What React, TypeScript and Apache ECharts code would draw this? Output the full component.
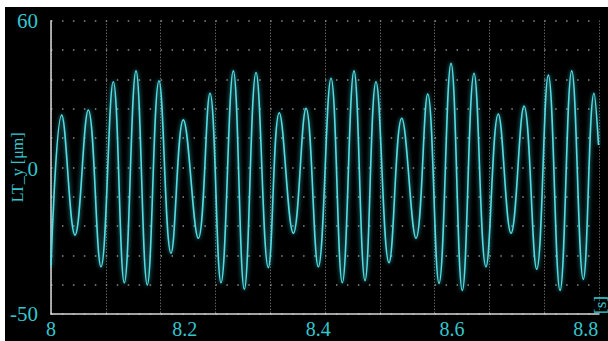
import React, { useEffect, useRef } from "react";
import * as echarts from "echarts";

// Time (s) of each turning point of the trace
const times = [
  8.0, 8.016, 8.0359, 8.0558, 8.0748, 8.0932, 8.1097, 8.1272, 8.1441, 8.1616,
  8.1796, 8.198, 8.2204, 8.2379, 8.2544, 8.2728, 8.2893, 8.3068, 8.3252, 8.3416,
  8.3626, 8.3816, 8.4, 8.419, 8.4359, 8.4534, 8.4699, 8.4863, 8.5058, 8.5248,
  8.5462, 8.5637, 8.5806, 8.5986, 8.6155, 8.633, 8.6509, 8.6693, 8.6883, 8.7078,
  8.7268, 8.7442, 8.7617, 8.7792, 8.7965, 8.8125, 8.8193,
];
// LT_y displacement (μm) at those turning points
const values = [
  -32, 24.6, -20.4, 26.5, -32.3, 37.1, -38.3, 41.2, -39.1, 37.5,
  -27.2, 22.8, -21.6, 32.8, -38.3, 41.2, -40.7, 40.6, -32.6, 25.5,
  -19.7, 27.1, -32.3, 38.4, -38.3, 41.2, -37.5, 37.1, -30.8, 23.4,
  -21.6, 32.5, -38.5, 44.0, -41.2, 40.3, -32.3, 25.0, -19.7, 28.0,
  -33.2, 39.6, -41.2, 41.2, -37.0, 32.8, 13.4,
];
const yLabelValues = [60, 0, -50];
const xMin = 8;
const xMax = 8.82;
const xInterval = 0.2;
const yMin = -50;
const yMax = 60;
const divisions = 10;

const CYAN = "#33c6cc";
const FONT = "Liberation Serif";

export default function App() {
  const ref = useRef<HTMLDivElement>(null);
  useEffect(() => {
    if (!ref.current) return;
    const chart = echarts.init(ref.current, null, { renderer: "svg" });
    const data = times.map((t, i) => [t, values[i]]);
    chart.setOption({
      animation: false,
      backgroundColor: "#000",
      grid: {
        left: 46,
        right: 9,
        top: 13.7,
        bottom: 27,
        containLabel: false,
        outerBoundsMode: "none",
      },
      xAxis: [
        {
          type: "value",
          min: xMin,
          max: xMax,
          interval: xInterval,
          axisLine: {
            show: true,
            onZero: false,
            lineStyle: { color: "#d8d8d8", width: 1.5 },
          },
          axisTick: { show: false },
          splitLine: { show: false },
          axisLabel: {
            color: CYAN,
            fontFamily: FONT,
            fontSize: 20,
            margin: 5,
            showMaxLabel: false,
            formatter: (v: number) => (Math.abs(v - 8) < 1e-9 ? "8" : v.toFixed(1)),
          },
          name: "[s]",
          nameLocation: "end",
          nameRotate: 90,
          nameGap: 1,
          nameMoveOverlap: false,
          nameTextStyle: {
            color: CYAN,
            fontFamily: FONT,
            fontSize: 17,
            align: "left",
            verticalAlign: "middle",
          },
        },
        {
          type: "value",
          min: 0,
          max: divisions,
          interval: 1,
          show: true,
          position: "bottom",
          axisLine: { show: false, onZero: false },
          axisTick: { show: false },
          axisLabel: { show: false },
          splitLine: {
            show: true,
            lineStyle: { color: "#8a8a8a", width: 1, type: [1, 2] },
          },
        },
      ],
      yAxis: [
        {
          type: "value",
          min: yMin,
          max: yMax,
          axisLine: {
            show: true,
            onZero: false,
            lineStyle: { color: "#d8d8d8", width: 1.5 },
          },
          axisTick: { show: false },
          splitLine: { show: false },
          axisLabel: {
            customValues: yLabelValues,
            color: CYAN,
            fontFamily: FONT,
            fontSize: 21,
            margin: 13,
            formatter: (v: number) => (v === 0 ? "{z|0}" : String(v)),
            rich: {
              z: {
                color: CYAN,
                fontFamily: FONT,
                fontSize: 21,
                padding: [0, 0, 24, 0],
              },
            },
          },
          name: "LT_y [μm]",
          nameLocation: "middle",
          nameRotate: 90,
          nameGap: 26,
          nameMoveOverlap: false,
          nameTextStyle: { color: CYAN, fontFamily: FONT, fontSize: 16 },
        },
        {
          type: "value",
          min: 0,
          max: divisions,
          interval: 1,
          show: true,
          position: "left",
          axisLine: { show: false, onZero: false },
          axisTick: { show: false },
          axisLabel: { show: false },
          splitLine: {
            show: true,
            lineStyle: { color: "#8a8a8a", width: 1.5, type: [1.5, 9.46] },
          },
        },
      ],
      series: [
        {
          type: "line",
          xAxisIndex: 0,
          yAxisIndex: 0,
          data,
          smooth: 0.42,
          symbol: "none",
          lineStyle: {
            color: "#52dde2",
            width: 1.6,
            shadowBlur: 4,
            shadowColor: "rgba(60,210,220,0.9)",
          },
          z: 5,
        },
      ],
    });
    return () => chart.dispose();
  }, []);
  return (
    <div
      style={{
        position: "fixed",
        left: 0,
        top: 0,
        width: 608,
        height: 341,
        background: "#fff",
        overflow: "hidden",
      }}
    >
      <div
        ref={ref}
        style={{ position: "absolute", left: 5, top: 7, width: 603, height: 334 }}
      />
    </div>
  );
}
